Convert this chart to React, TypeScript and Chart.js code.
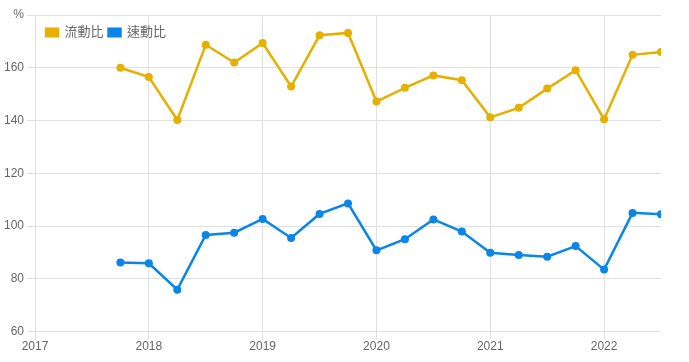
import React, { useEffect, useRef } from "react";
import { Chart, registerables } from "chart.js";

Chart.register(...registerables);

const periods = [
  "2017Q3", "2017Q4", "2018Q1", "2018Q2", "2018Q3", "2018Q4",
  "2019Q1", "2019Q2", "2019Q3", "2019Q4", "2020Q1", "2020Q2",
  "2020Q3", "2020Q4", "2021Q1", "2021Q2", "2021Q3", "2021Q4",
  "2022Q1", "2022Q2",
];
const currentRatio = [
  160.0, 156.5, 140.2, 168.7, 162.0, 169.4, 152.9, 172.3, 173.2, 147.2,
  152.4, 157.1, 155.3, 141.2, 144.8, 152.1, 159.1, 140.5, 164.9, 166.0,
];
const quickRatio = [
  86.2, 85.9, 75.9, 96.6, 97.5, 102.7, 95.5, 104.6, 108.6, 90.8,
  95.0, 102.5, 97.9, 89.9, 89.0, 88.4, 92.4, 83.5, 105.0, 104.5,
];
const seriesNames = ["流動比", "速動比"];
const yUnit = "%";

const quarterEnd = (p: string) => {
  const year = parseInt(p.slice(0, 4), 10);
  const q = parseInt(p.slice(5), 10);
  return year + q / 4;
};

const FONT = "'Liberation Sans', Arial, 'Noto Sans CJK TC', sans-serif";

const horizontalLegendInArea = {
  id: "horizontalLegendInArea",
  afterInit(chart: any) {
    if (chart.legend) chart.legend.isHorizontal = () => true;
  },
  beforeUpdate(chart: any) {
    if (chart.legend) chart.legend.isHorizontal = () => true;
  },
  afterLayout(chart: any) {
    const lg = chart.legend;
    const ca = chart.chartArea;
    if (lg && ca) {
      lg.left = ca.left + 6;
      lg.right = ca.right;
      lg.width = lg.right - lg.left;
      lg.top = ca.top + 6;
      if (lg.adjustHitBoxes) lg.adjustHitBoxes();
    }
  },
};

export default function App() {
  const ref = useRef<HTMLCanvasElement | null>(null);
  useEffect(() => {
    document.body.style.margin = "0";
    if (!ref.current) return;
    const xs = periods.map(quarterEnd);
    const chart = new Chart(ref.current, {
      type: "line",
      data: {
        datasets: [
          {
            label: seriesNames[0],
            data: xs.map((x, i) => ({ x, y: currentRatio[i] })),
            borderColor: "#E6B000",
            backgroundColor: "#E6B000",
            borderWidth: 2.5,
            pointRadius: 4,
            pointBorderWidth: 0,
            tension: 0,
          },
          {
            label: seriesNames[1],
            data: xs.map((x, i) => ({ x, y: quickRatio[i] })),
            borderColor: "#0A86E8",
            backgroundColor: "#0A86E8",
            borderWidth: 2.5,
            pointRadius: 4,
            pointBorderWidth: 0,
            tension: 0,
          },
        ],
      },
      plugins: [horizontalLegendInArea],
      options: {
        animation: false,
        responsive: true,
        maintainAspectRatio: false,
        layout: { padding: { left: 1, right: 28, top: 15, bottom: 8 } },
        plugins: {
          legend: {
            position: "chartArea" as any,
            align: "start",
            labels: {
              boxWidth: 12,
              boxHeight: 7.5,
              padding: 5,
              color: "#666",
              font: { family: FONT, size: 13 },
            },
          },
          tooltip: { enabled: false },
        },
        scales: {
          x: {
            type: "linear",
            min: 2017,
            max: 2022.5,
            border: { display: false },
            grid: { color: "#e0e0e0" },
            ticks: {
              stepSize: 1,
              padding: 0,
              includeBounds: false,
              color: "#666",
              font: { family: FONT, size: 12 },
              callback: (v: any) => (Number.isInteger(v) ? String(v) : null),
            },
          },
          y: {
            min: 60,
            max: 180,
            border: { display: false },
            grid: { color: "#e0e0e0" },
            ticks: {
              stepSize: 20,
              color: "#666",
              font: { family: FONT, size: 12 },
              callback: (v: any) => (v === 180 ? yUnit : String(v)),
            },
          },
        },
      },
    });
    return () => chart.destroy();
  }, []);
  return (
    <div style={{ width: 689, height: 362, position: "relative" }}>
      <canvas ref={ref} />
    </div>
  );
}
